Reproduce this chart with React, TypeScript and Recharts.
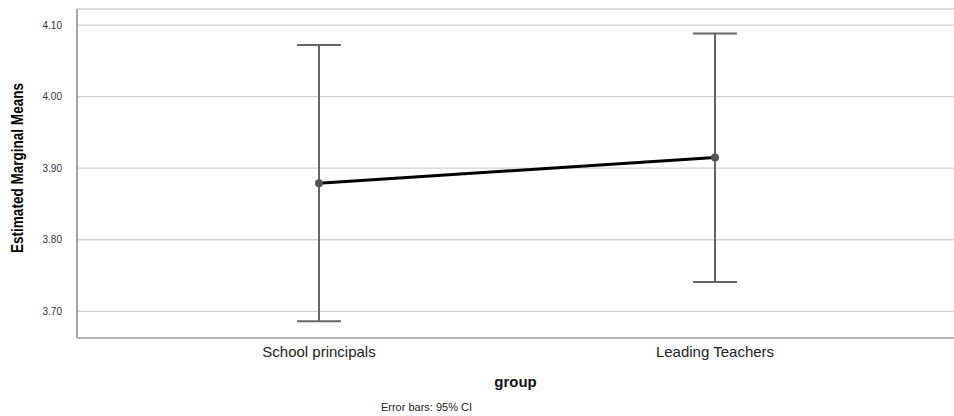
import { LineChart, Line, XAxis, YAxis, CartesianGrid, ErrorBar, Label } from "recharts";

const groups = ["School principals", "Leading Teachers"];
const means = [3.879, 3.915];
const ciLower = [3.686, 3.741];
const ciUpper = [4.072, 4.088];
const yTicks = [3.7, 3.8, 3.9, 4.0, 4.1];

const data = groups.map((g, i) => ({
  group: g,
  mean: means[i],
  ci: [means[i] - ciLower[i], ciUpper[i] - means[i]],
}));

const FONT = "'Liberation Sans', Arial, sans-serif";

function YTitle() {
  const cx = 17;
  const cy = 168;
  return (
    <text
      x={cx}
      y={cy}
      transform={`rotate(-90 ${cx} ${cy})`}
      textAnchor="middle"
      dominantBaseline="central"
      fontFamily="'Liberation Sans Narrow', 'Liberation Sans', Arial, sans-serif"
      fontWeight="bold"
      fontSize={17}
      textLength={170}
      lengthAdjust="spacingAndGlyphs"
      fill="#000"
    >
      Estimated Marginal Means
    </text>
  );
}

export default function App() {
  return (
    <div style={{ position: "absolute", left: 0, top: 0, width: 954, height: 416, background: "#fff", fontFamily: FONT }}>
      <LineChart width={954} height={416} data={data} margin={{ top: 9, right: 0, bottom: 48, left: 17 }}>
        <CartesianGrid vertical={false} stroke="#d2d2d2" strokeWidth={1.3} />
        <XAxis
          dataKey="group"
          type="category"
          padding={{ left: 242, right: 239 }}
          axisLine={{ stroke: "#b5b5b5", strokeWidth: 2 }}
          tickLine={false}
          tickSize={0}
          tickMargin={8}
          tick={{ fontSize: 15, fill: "#222", fontFamily: FONT }}
          height={30}
        >
          <Label value="group" position="bottom" offset={8} style={{ fontSize: 15, fontWeight: "bold", fill: "#111", fontFamily: FONT }} />
          <Label value="Error bars: 95% CI" position="bottom" offset={35} dx={-89} style={{ fontSize: 11, fill: "#222", fontFamily: FONT }} />
        </XAxis>
        <YAxis
          type="number"
          domain={[3.6627, 4.1224]}
          ticks={yTicks}
          tickFormatter={(v: number) => v.toFixed(2)}
          axisLine={{ stroke: "#8a8a8a", strokeWidth: 1.5 }}
          tickLine={false}
          tickSize={0}
          tickMargin={15}
          width={60}
          tick={{ fontSize: 10, fill: "#333", fontFamily: FONT }}
        >
          <Label content={<YTitle />} />
        </YAxis>
        <Line
          type="linear"
          dataKey="mean"
          stroke="#000"
          strokeWidth={3}
          dot={{ r: 4, fill: "#555", stroke: "#555", strokeWidth: 0 }}
          activeDot={false}
          isAnimationActive={false}
        >
          <ErrorBar dataKey="ci" width={22} stroke="#666" strokeWidth={2} direction="y" />
        </Line>
      </LineChart>
    </div>
  );
}
